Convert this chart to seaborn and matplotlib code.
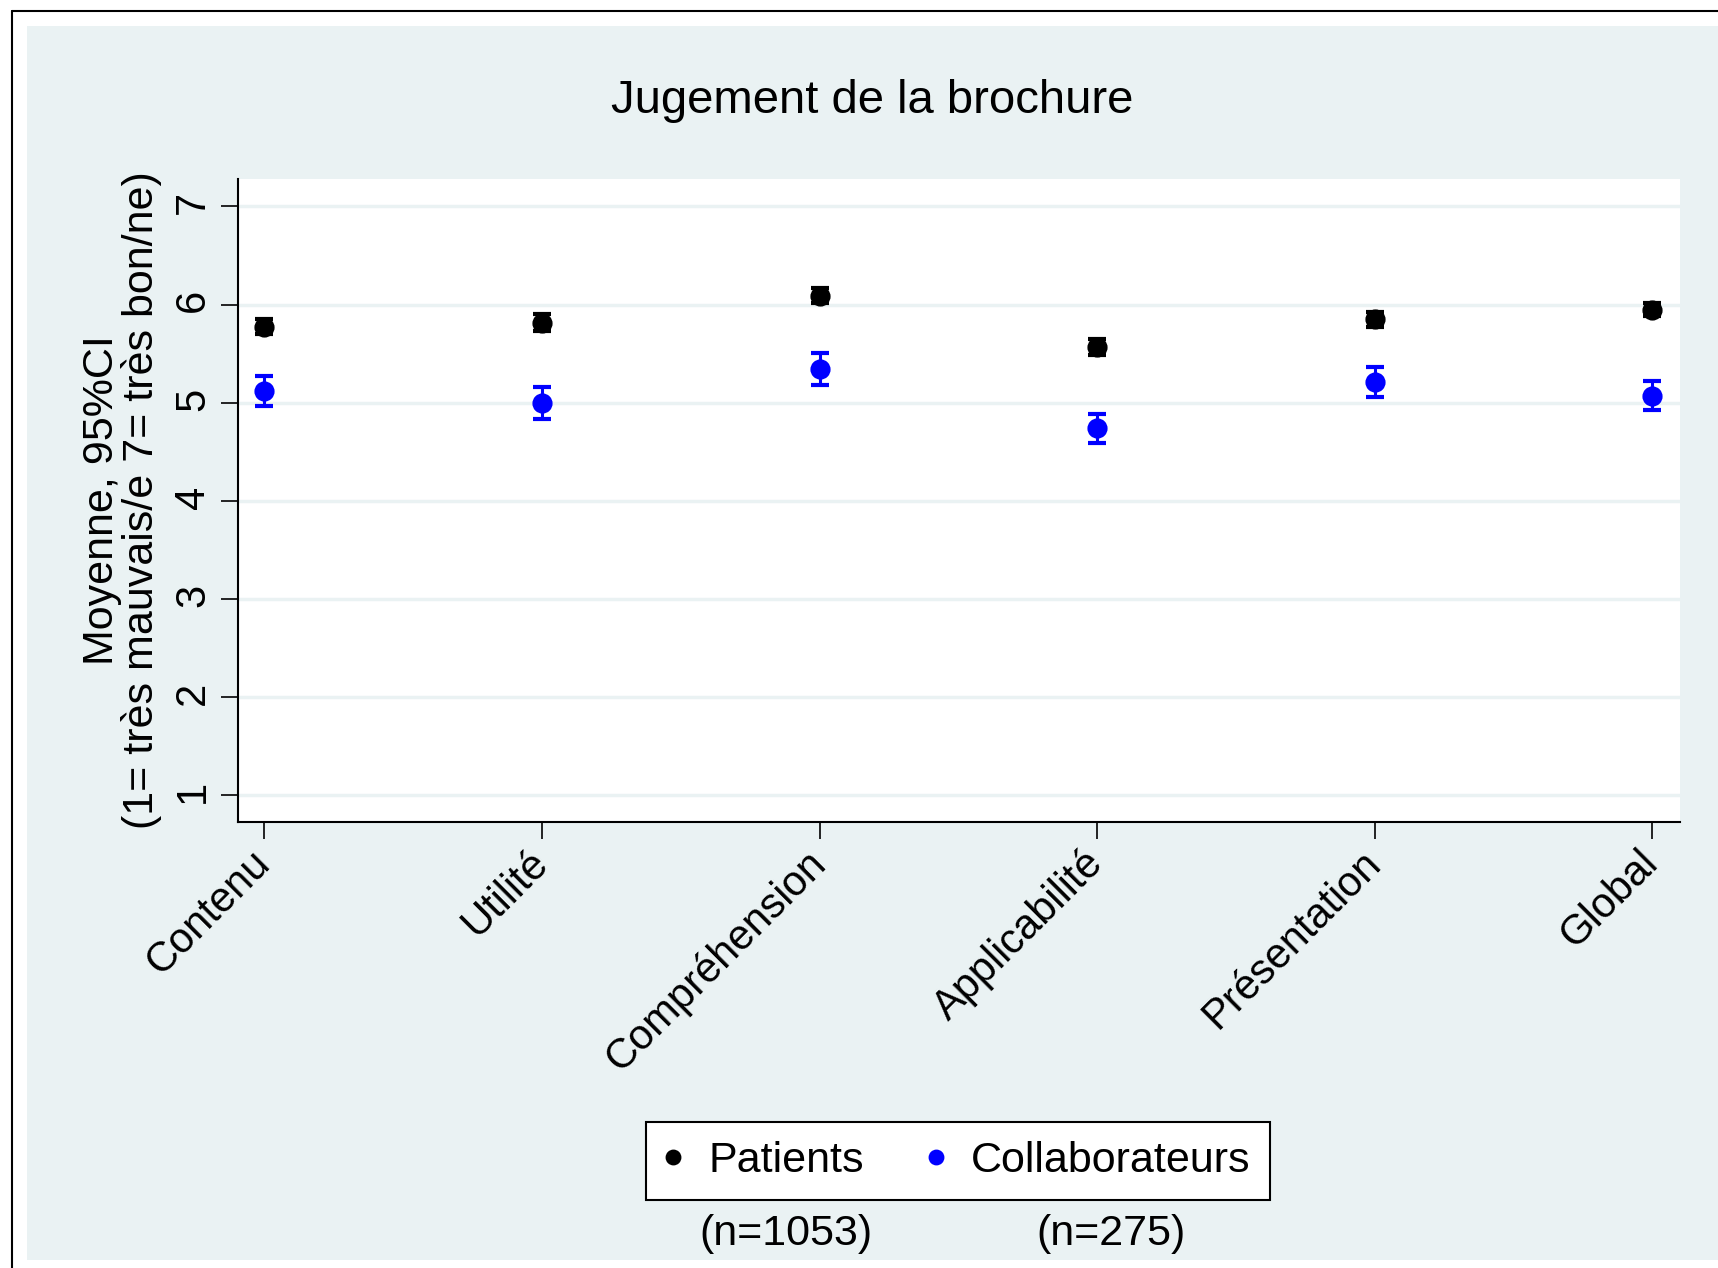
import matplotlib.pyplot as plt
import matplotlib.patches as patches
from matplotlib.lines import Line2D
import numpy as np
import pandas as pd
import seaborn as sns

# values
categories = ["Contenu", "Utilité", "Compréhension", "Applicabilité", "Présentation", "Global"]
groups = ["Patients", "Collaborateurs"]
group_n = ["(n=1053)", "(n=275)"]

patients_mean = [5.77, 5.81, 6.09, 5.57, 5.85, 5.95]
patients_lo = [5.70, 5.73, 6.02, 5.49, 5.77, 5.88]
patients_hi = [5.85, 5.90, 6.17, 5.65, 5.93, 6.02]

collab_mean = [5.12, 5.00, 5.34, 4.74, 5.21, 5.07]
collab_lo = [4.97, 4.84, 5.18, 4.59, 5.06, 4.93]
collab_hi = [5.27, 5.16, 5.51, 4.89, 5.36, 5.22]

y_ticks = [1, 2, 3, 4, 5, 6, 7]
title = "Jugement de la brochure"
y_label = "Moyenne, 95%CI\n(1= très mauvais/e 7= très bon/ne)"

colors = ["black", "#0000FF"]
panel_color = "#EAF2F3"

sns.set_theme(style="white")
plt.rcParams["font.family"] = ["Liberation Sans", "DejaVu Sans"]
plt.rcParams.update({
    "text.color": "black",
    "axes.labelcolor": "black",
    "xtick.color": "black",
    "ytick.color": "black",
})

df = pd.DataFrame({
    "dimension": categories * 2,
    "group": [groups[0]] * len(categories) + [groups[1]] * len(categories),
    "mean": patients_mean + collab_mean,
    "lo": patients_lo + collab_lo,
    "hi": patients_hi + collab_hi,
})

W, H = 1718, 1268
fig = plt.figure(figsize=(W / 100, H / 100), dpi=100)
fig.patch.set_facecolor("white")

# graph region (Stata-like light bluish panel) and outer frame
fig.patches.append(patches.Rectangle(
    (27 / W, 1 - 1260 / H), 1 - 27 / W, (1260 - 26) / H,
    transform=fig.transFigure, facecolor=panel_color, edgecolor="none", zorder=-1))
fig.add_artist(Line2D([12 / W, 12 / W], [0, 1 - 11 / H], transform=fig.transFigure,
                      color="black", linewidth=1.5))
fig.add_artist(Line2D([12 / W, 1], [1 - 11 / H, 1 - 11 / H], transform=fig.transFigure,
                      color="black", linewidth=1.5))

ax = fig.add_axes([238 / W, 1 - 822 / H, (1680 - 238) / W, (822 - 179) / H])
ax.set_facecolor("white")

sns.pointplot(
    data=df, x="dimension", y="mean", hue="group",
    order=categories, hue_order=groups, palette=colors,
    errorbar=None, linestyle="none", markers="o", markersize=12.5,
    ax=ax, zorder=3,
)

positions = np.arange(len(categories))
for name, color in zip(groups, colors):
    sub = df[df["group"] == name].set_index("dimension").loc[categories]
    ax.errorbar(
        positions, sub["mean"],
        yerr=[sub["mean"] - sub["lo"], sub["hi"] - sub["mean"]],
        fmt="none", ecolor=color, elinewidth=2.2, capsize=6.5, capthick=3, zorder=4,
    )

ax.set_ylim(0.73, 7.28)
ax.set_xlim(-0.095, 5.1)
ax.set_yticks(y_ticks)
ax.set_xticks(positions)
ax.set_xticklabels(categories, rotation=45, ha="right", va="center", rotation_mode="anchor")
ax.yaxis.grid(True, color=panel_color, linewidth=2.5)
ax.xaxis.grid(False)
ax.set_axisbelow(True)

for side in ["top", "right"]:
    ax.spines[side].set_visible(False)
for side in ["left", "bottom"]:
    ax.spines[side].set_color("black")
    ax.spines[side].set_linewidth(1.5)

ax.tick_params(axis="both", bottom=True, left=True, direction="out", length=12,
               width=1.2, color="black", labelsize=30, labelcolor="black")
ax.tick_params(axis="y", labelrotation=90, pad=6)
ax.tick_params(axis="x", pad=13)

ax.set_xlabel("")
ax.set_ylabel(y_label, fontsize=31, linespacing=0.95, labelpad=8, color="black")

fig.text((27 + W) / 2 / W, 1 - 101 / H, title, ha="center", va="center",
         fontsize=34, color="black")

handles, labels = ax.get_legend_handles_labels()
if ax.get_legend():
    ax.get_legend().remove()
leg = fig.legend(
    handles, labels, loc="center", bbox_to_anchor=(958 / W, 1 - 1161 / H),
    ncol=2, frameon=True, fancybox=False, edgecolor="black", facecolor="white",
    fontsize=31, markerscale=0.75, handlelength=0.37, handletextpad=0.63,
    columnspacing=1.49, borderpad=0.45, framealpha=1,
)
leg.get_frame().set_linewidth(1.5)
for text in leg.get_texts():
    text.set_color("black")

# sample sizes centered under each legend label
fig.canvas.draw()
renderer = fig.canvas.get_renderer()
for text, n_label in zip(leg.get_texts(), group_n):
    bb = text.get_window_extent(renderer)
    fig.text((bb.x0 + bb.x1) / 2 / W, 1 - 1234 / H, n_label, ha="center", va="center",
             fontsize=31, color="black")

fig.savefig("out.png", dpi=100)
plt.close("all")
